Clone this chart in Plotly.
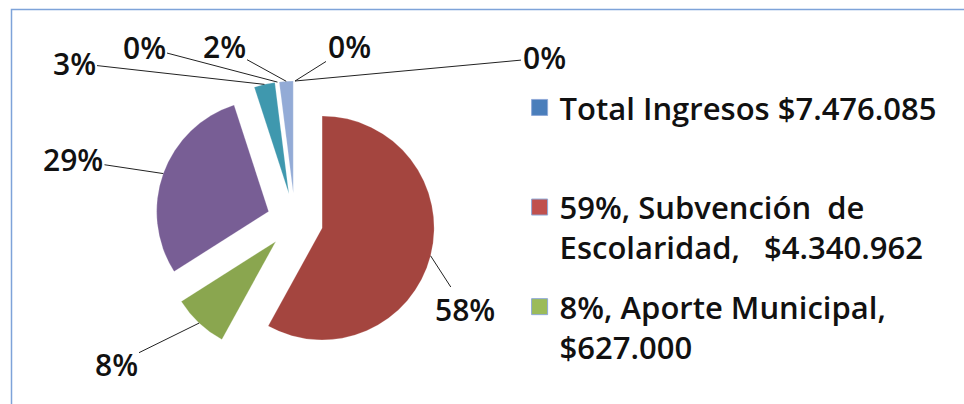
import math
import plotly.graph_objects as go

W, H = 964, 404

# ---- data (clockwise from 12 o'clock) ----
slice_names = ["Total Ingresos $7.476.085", "Subvención de Escolaridad", "Aporte Municipal",
               "Serie 4", "Serie 5", "Serie 6", "Serie 7", "Serie 8"]
slice_values = [0, 58, 8, 29, 3, 0, 2, 0]
slice_text = ["0%", "58%", "8%", "29%", "3%", "0%", "2%", "0%"]
slice_colors = ["#4A7EBB", "#A4453F", "#8AA64F", "#785E95", "#3F98AE", "#E8893E", "#93ABD6", "#2C4D75"]

legend_names = ["Total Ingresos $7.476.085<br> ",
                "59%, Subvención  de<br>Escolaridad,   $4.340.962",
                "8%, Aporte Municipal,<br>$627.000"]
legend_colors = ["#4A7EBB", "#C0504D", "#9BBB59"]

# ---- layout constants ----
CX, CY, R, PULL = 295, 221, 112, 0.25
HALF = R * (1 + PULL)
label_px = [(544, 58), (465, 309), (116, 364), (73, 160), (74, 63), (144, 47), (224, 47), (349, 47)]
FONT = "'Open Sans', Lato, sans-serif"

fig = go.Figure()
fig.add_trace(go.Pie(
    labels=slice_names, values=slice_values, sort=False, direction="clockwise", rotation=0,
    pull=[PULL] * len(slice_values), textinfo="none", showlegend=False,
    marker=dict(colors=slice_colors, line=dict(color="rgba(255,255,255,0.4)", width=0.5)),
    domain=dict(x=[(CX - HALF) / W, (CX + HALF) / W], y=[(H - CY - HALF) / H, (H - CY + HALF) / H]),
))

for name, col in zip(legend_names, legend_colors):
    fig.add_trace(go.Scatter(x=[None], y=[None], mode="markers", name=name, legendgroup=name,
                             marker=dict(symbol="square", size=20, color=col,
                                         line=dict(color="#8FA9D8", width=1))))

# data labels with leader lines pointing to each slice's outer edge
total = sum(slice_values)
cum = 0
annotations = []
for v, txt, (tx, ty) in zip(slice_values, slice_text, label_px):
    mid = (cum + v / 2) / total * 2 * math.pi
    cum += v
    px = CX + HALF * math.sin(mid)
    py = CY - HALF * math.cos(mid)
    annotations.append(dict(x=px / W, y=1 - py / H, xref="paper", yref="paper",
                            text=txt, showarrow=True, arrowhead=0, arrowwidth=1,
                            arrowcolor="#222222", ax=tx - px, ay=ty - py,
                            font=dict(family=FONT, size=30, color="#111111", weight=600)))

fig.update_layout(
    width=W, height=H, margin=dict(l=0, r=0, t=0, b=0),
    paper_bgcolor="white", plot_bgcolor="white",
    xaxis=dict(visible=False), yaxis=dict(visible=False),
    annotations=annotations,
    legend=dict(x=0.539, y=0.80, xanchor="left", yanchor="top", valign="top",
                traceorder="grouped", tracegroupgap=16,
                font=dict(family=FONT, size=31, color="#111111", weight=600),
                bgcolor="rgba(0,0,0,0)"),
    shapes=[dict(type="rect", xref="paper", yref="paper", x0=11.5 / W, x1=1.05,
                 y0=-0.05, y1=1 - 9.5 / H, line=dict(color="#7EA3D9", width=1.5))],
)

fig.write_html("out.html", config={"displayModeBar": False},
               post_script="document.body.style.margin='0';")
